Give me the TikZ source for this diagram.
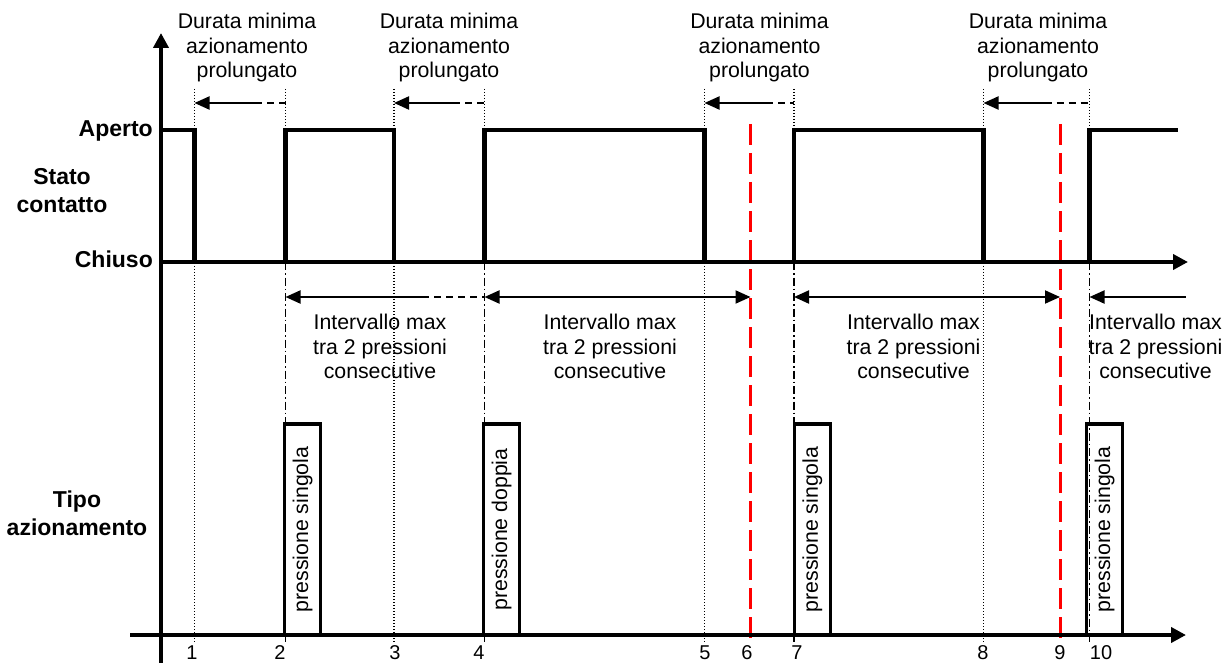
\documentclass[tikz,border=0pt]{standalone}
\usepackage{fontspec}
\setmainfont{Liberation Sans}
\usetikzlibrary{arrows.meta}
\begin{document}
\begin{tikzpicture}[x=1pt,y=-1pt,
  axisline/.style={line width=4pt,-{Triangle[length=15pt,width=15pt]}},
  signal/.style={line width=4.5pt,line join=miter},
  dotline/.style={line width=1.3pt,dash pattern=on 1.3pt off 1.7pt},
  dashdotline/.style={line width=1.5pt,dash pattern=on 8pt off 3pt on 1.5pt off 3pt},
  redline/.style={red,line width=3pt,dash pattern=on 21pt off 8pt},
  dimarrow/.style={line width=2pt,{Triangle[length=15pt,width=13pt]}-},
  dimboth/.style={line width=2pt,{Triangle[length=15pt,width=13pt]}-{Triangle[length=15pt,width=13pt]}},
  dimdash/.style={line width=2pt,dash pattern=on 7pt off 5pt},
  regtext/.style={font=\fontsize{21.3}{24.5}\selectfont,align=center,inner sep=0pt},
  boldtext/.style={font=\bfseries\fontsize{23}{28}\selectfont,align=center,inner sep=0pt},
  digit/.style={font=\fontsize{20}{24}\selectfont,inner sep=0pt,anchor=base},
  pulsebox/.style={draw,line width=3.5pt,rotate=90,minimum width=211pt,minimum height=36pt,inner sep=0pt,font=\fontsize{21.3}{24}\selectfont}]
\useasboundingbox (0,0) rectangle (1228,663);

% levels
\coordinate (top) at (0,89);
\coordinate (hi) at (0,130);
\coordinate (redtop) at (0,124);
\coordinate (lo) at (0,262);
\coordinate (bot) at (0,643);
\coordinate (arrA) at (0,103);
\coordinate (arrB) at (0,297);
% time instants
\coordinate (t1) at (194.5,0);
\coordinate (t2) at (285.5,0);
\coordinate (t3) at (394,0);
\coordinate (t4) at (484.5,0);
\coordinate (t5) at (704.5,0);
\coordinate (t6) at (750.5,0);
\coordinate (t7) at (794,0);
\coordinate (t8) at (983.5,0);
\coordinate (t9) at (1060,0);
\coordinate (t10) at (1089.5,0);

% dotted time markers
\foreach \t in {t1,t3,t5,t8}
  \draw[dotline] (\t|-top) -- (\t|-bot);
\foreach \t in {t2,t4,t7,t10}{
  \draw[dotline] (\t|-top) -- (\t|-hi);
  \draw[dashdotline] (\t|-lo) -- (\t|-bot);
}
% red timeout markers
\foreach \t in {t6,t9}
  \draw[redline] (\t|-redtop) -- (\t|-bot);

% axes
\draw[axisline] (161,663) -- (161,33);
\draw[axisline] (161,262) -- (1188,262);
\draw[axisline] (130,635) -- (1186,635);

% contact state signal
\draw[signal] (163,130) -- (t1|-hi) -- (t1|-lo) -- (t2|-lo) -- (t2|-hi) -- (t3|-hi) -- (t3|-lo)
  -- (t4|-lo) -- (t4|-hi) -- (t5|-hi) -- (t5|-lo) -- (t7|-lo) -- (t7|-hi) -- (t8|-hi)
  -- (t8|-lo) -- (t10|-lo) -- (t10|-hi) -- (1178,130);

% minimum duration arrows
\coordinate (dA) at (255,103);
\coordinate (dB) at (453,103);
\coordinate (dC) at (766,103);
\coordinate (dD) at (1044.5,103);
\draw[dimarrow] (t1|-arrA) -- (dA);  \draw[dimdash] (dA) -- (t2|-arrA);
\draw[dimarrow] (t3|-arrA) -- (dB);  \draw[dimdash] (dB) -- (t4|-arrA);
\draw[dimarrow] (t5|-arrA) -- (dC);  \draw[dimdash] (dC) -- (t7|-arrA);
\draw[dimarrow] (t8|-arrA) -- (dD);  \draw[dimdash] (dD) -- (t10|-arrA);

\node[regtext] (durA) at (247,47.7) {Durata minima\\azionamento\\prolungato};
\node[regtext] (durB) at (449,47.7) {Durata minima\\azionamento\\prolungato};
\node[regtext] (durC) at (759.5,47.7) {Durata minima\\azionamento\\prolungato};
\node[regtext] (durD) at (1038,47.7) {Durata minima\\azionamento\\prolungato};

% max interval arrows
\coordinate (iA) at (422,297);
\coordinate (iEnd) at (1186,297);
\draw[dimarrow] (t2|-arrB) -- (iA);  \draw[dimdash] (iA) -- (t4|-arrB);
\draw[dimboth] (t4|-arrB) -- (t6|-arrB);
\draw[dimboth] (t7|-arrB) -- (t9|-arrB);
\draw[dimarrow] (t10|-arrB) -- (iEnd);

\node[regtext] (intA) at (380,346.8) {Intervallo max\\tra 2 pressioni\\consecutive};
\node[regtext] (intB) at (610,346.8) {Intervallo max\\tra 2 pressioni\\consecutive};
\node[regtext] (intC) at (913.5,346.8) {Intervallo max\\tra 2 pressioni\\consecutive};
\node[regtext] (intD) at (1155.5,346.8) {Intervallo max\\tra 2 pressioni\\consecutive};

% actuation type boxes
\node[pulsebox] (pA) at (302.7,529.5) {pressione singola};
\node[pulsebox] (pB) at (501.7,529.5) {pressione doppia};
\node[pulsebox] (pC) at (812.3,529.5) {pressione singola};
\node[pulsebox] (pD) at (1104.7,529.5) {pressione singola};

% axis labels
\node[boldtext,anchor=base east] (aperto) at (153,137) {Aperto};
\node[boldtext,anchor=base east] (chiuso) at (153,267) {Chiuso};
\node[boldtext] (stato) at (62,190.8) {Stato\\contatto};
\node[boldtext] (tipo) at (77,513.5) {Tipo\\azionamento};

% time labels
\node[digit] (n1) at (192,659.5) {1};
\node[digit] (n2) at (280,659.5) {2};
\node[digit] (n3) at (395,659.5) {3};
\node[digit] (n4) at (479,659.5) {4};
\node[digit] (n5) at (705,659.5) {5};
\node[digit] (n6) at (747,659.5) {6};
\node[digit] (n7) at (797,659.5) {7};
\node[digit] (n8) at (983,659.5) {8};
\node[digit] (n9) at (1060,659.5) {9};
\node[digit] (n10) at (1101,659.5) {10};
\end{tikzpicture}
\end{document}
